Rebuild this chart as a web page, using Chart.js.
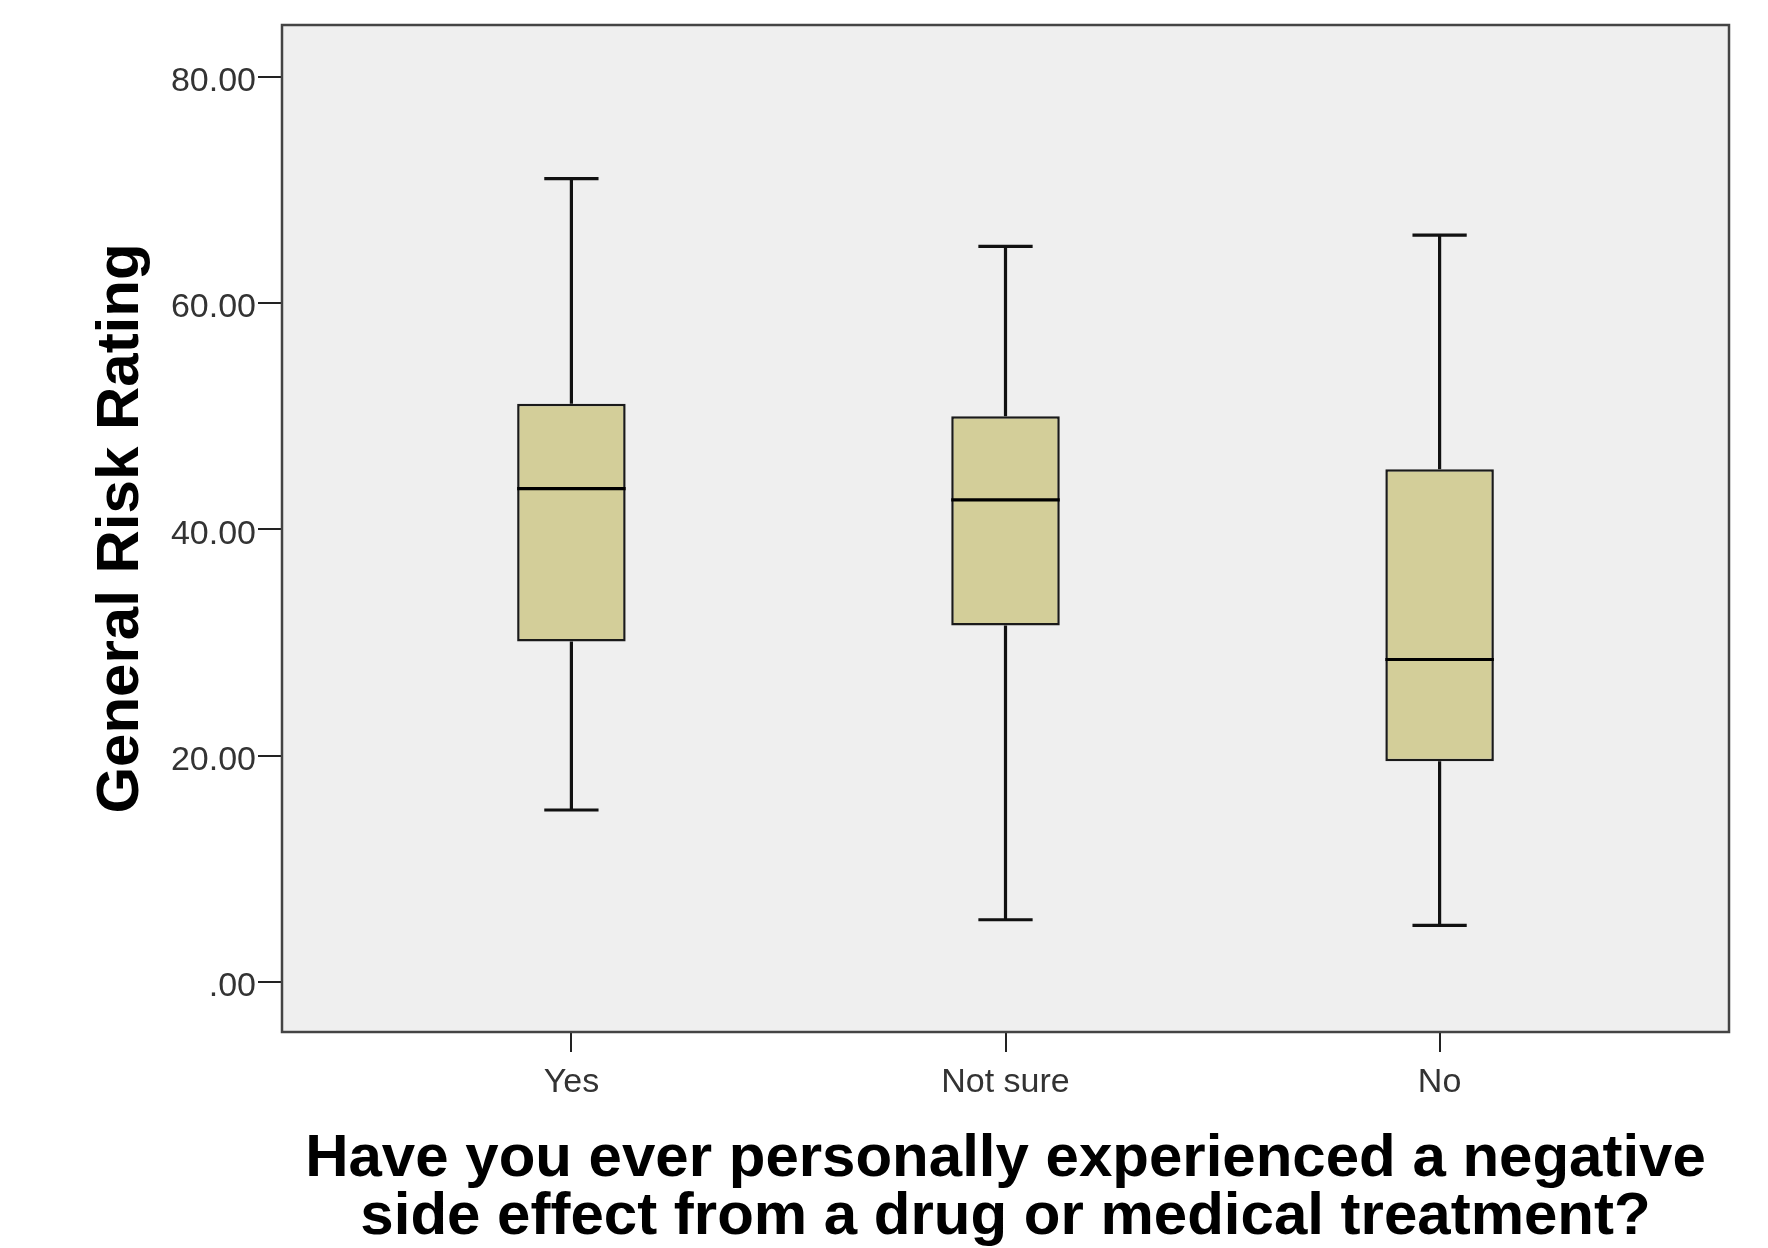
<!DOCTYPE html>
<html>
<head>
<meta charset="utf-8">
<script src="https://cdn.jsdelivr.net/npm/chart.js@4/dist/chart.umd.min.js"></script>
<style>
html,body{margin:0;padding:0;background:#fff;}
#wrap{width:1768px;height:1248px;}
</style>
</head>
<body>
<div id="wrap"><canvas id="c" width="1768" height="1248"></canvas></div>
<script>
// ---- data ----
const categories = ['Yes', 'Not sure', 'No'];
const whiskerLow = [15.2, 5.5, 5.0];
const q1 = [30.1, 31.5, 19.5];
const median = [43.6, 42.6, 28.5];
const q3 = [51.1, 50.0, 45.3];
const whiskerHigh = [71.0, 65.0, 66.0];
const yTicks = [0, 20, 40, 60, 80];
const xTitle = ['Have you ever personally experienced a negative', 'side effect from a drug or medical treatment?'];
const yTitle = 'General Risk Rating';

const boxData = categories.map((c, i) => ({ x: i + 1, y: [q1[i], q3[i]] }));

const plotFrame = {
  id: 'plotFrame',
  beforeDraw(chart) {
    const a = chart.chartArea, ctx = chart.ctx;
    ctx.save();
    ctx.fillStyle = '#ffffff';
    ctx.fillRect(0, 0, chart.width, chart.height);
    ctx.fillStyle = '#efefef';
    ctx.fillRect(a.left, a.top, a.right - a.left, a.bottom - a.top);
    ctx.restore();
  },
  beforeDatasetsDraw(chart) {
    const ctx = chart.ctx, xs = chart.scales.x, ys = chart.scales.y;
    const meta = chart.getDatasetMeta(0);
    ctx.save();
    ctx.strokeStyle = '#111';
    ctx.lineWidth = 3.2;
    categories.forEach((c, i) => {
      const x = xs.getPixelForValue(i + 1);
      const half = meta.data[i].width / 4;
      const yHi = ys.getPixelForValue(whiskerHigh[i]);
      const yQ3 = ys.getPixelForValue(q3[i]);
      const yQ1 = ys.getPixelForValue(q1[i]);
      const yLo = ys.getPixelForValue(whiskerLow[i]);
      ctx.beginPath();
      ctx.moveTo(x, yQ3); ctx.lineTo(x, yHi);
      ctx.moveTo(x - half, yHi); ctx.lineTo(x + half, yHi);
      ctx.moveTo(x, yQ1); ctx.lineTo(x, yLo);
      ctx.moveTo(x - half, yLo); ctx.lineTo(x + half, yLo);
      ctx.stroke();
    });
    ctx.restore();
  },
  afterDatasetsDraw(chart) {
    const ctx = chart.ctx, xs = chart.scales.x, ys = chart.scales.y;
    const meta = chart.getDatasetMeta(0);
    ctx.save();
    ctx.strokeStyle = '#000';
    ctx.lineWidth = 3.2;
    categories.forEach((c, i) => {
      const x = xs.getPixelForValue(i + 1);
      const half = meta.data[i].width / 2;
      const yM = ys.getPixelForValue(median[i]);
      ctx.beginPath();
      ctx.moveTo(x - half, yM); ctx.lineTo(x + half, yM);
      ctx.stroke();
    });
    const a = chart.chartArea;
    ctx.strokeStyle = '#444';
    ctx.lineWidth = 2.5;
    ctx.strokeRect(a.left, a.top, a.right - a.left, a.bottom - a.top);
    ctx.restore();
  }
};

new Chart(document.getElementById('c'), {
  type: 'bar',
  data: {
    datasets: [{
      data: boxData,
      backgroundColor: '#d3ce99',
      borderColor: '#1a1a1a',
      borderWidth: 2.5,
      borderSkipped: false,
      categoryPercentage: 1,
      barPercentage: 0.25
    }]
  },
  options: {
    responsive: false,
    animation: false,
    devicePixelRatio: 1,
    layout: { padding: { top: 25, right: 39, bottom: 0, left: 0 } },
    plugins: { legend: { display: false }, tooltip: { enabled: false } },
    scales: {
      x: {
        type: 'linear',
        offset: false,
        min: 1 / 3,
        max: 11 / 3,
        grid: { offset: false, drawOnChartArea: false, drawTicks: true, tickLength: 20, color: '#222', lineWidth: 2 },
        border: { display: false },
        afterBuildTicks(s) { s.ticks = categories.map((c, i) => ({ value: i + 1 })); },
        afterFit(s) { s.height = 216; },
        ticks: {
          autoSkip: false,
          maxRotation: 0,
          padding: 10,
          color: '#333',
          font: { family: 'Liberation Sans, Arial, sans-serif', size: 34 },
          callback: (v) => categories[Math.round(v) - 1]
        },
        title: {
          display: true,
          text: xTitle,
          color: '#000',
          padding: { top: 0, bottom: 1 },
          font: { family: 'Liberation Sans, Arial, sans-serif', size: 60, weight: 'bold', lineHeight: 0.97 }
        }
      },
      y: {
        type: 'linear',
        min: -4.42,
        max: 84.57,
        grid: { drawOnChartArea: false, drawTicks: true, tickLength: 24, color: '#222', lineWidth: 2 },
        border: { display: false },
        afterBuildTicks(s) { s.ticks = yTicks.map(v => ({ value: v })); },
        afterFit(s) { s.width = 282; },
        ticks: {
          padding: 2,
          labelOffset: 5,
          color: '#333',
          font: { family: 'Liberation Sans, Arial, sans-serif', size: 34 },
          callback: (v) => v === 0 ? '.00' : v.toFixed(2)
        },
        title: {
          display: true,
          text: yTitle,
          color: '#000',
          padding: { top: 85, bottom: 0 },
          font: { family: 'Liberation Sans, Arial, sans-serif', size: 60, weight: 'bold', lineHeight: 1.2 }
        }
      }
    }
  },
  plugins: [plotFrame]
});
</script>
</body>
</html>
